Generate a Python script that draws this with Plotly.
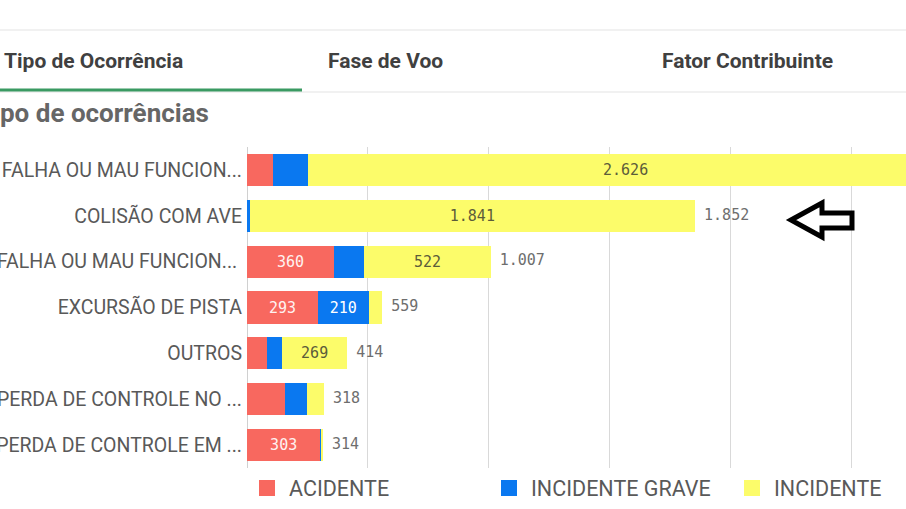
import plotly.graph_objects as go

# ---- data ----
categories = [
    "FALHA OU MAU FUNCION...",
    "COLISÃO COM AVE",
    "FALHA OU MAU FUNCION... ",
    "EXCURSÃO DE PISTA",
    "OUTROS",
    "PERDA DE CONTROLE NO ...",
    "PERDA DE CONTROLE EM ...",
]
acidente = [107, 3, 360, 293, 83, 157, 303]
incidente_grave = [145, 8, 125, 210, 62, 91, 6]
incidente = [2626, 1841, 522, 56, 269, 70, 5]
series_names = ["ACIDENTE", "INCIDENTE GRAVE", "INCIDENTE"]
colors = ["#f8685f", "#0a78f0", "#fcfc6a"]
tabs = ["Tipo de Ocorrência", "Fase de Voo", "Fator Contribuinte"]
title_text = "Tipo de ocorrências"

totals = [a + b + c for a, b, c in zip(acidente, incidente_grave, incidente)]

W, H = 906, 509
ML, MR, MT, MB = 247, 0, 147, 41
PW, PH = W - ML - MR, H - MT - MB


def X(px):
    return (px - ML) / PW


def Y(py):
    return (H - MB - py) / PH


def fmt(v):
    return f"{v:,}".replace(",", ".")


def labels(vals):
    return [fmt(v) if v >= 200 else "" for v in vals]


fig = go.Figure()
text_colors = ["#fff2f0", "#ffffff", "#5c5c3a"]
legend_ids = ["legend", "legend", "legend2"]
for name, vals, col, tc in zip(series_names, [acidente, incidente_grave, incidente],
                               colors, text_colors):
    fig.add_trace(go.Bar(
        y=categories, x=vals, name=name, orientation="h",
        marker=dict(color=col, line=dict(width=0)),
        text=labels(vals), textposition="inside", insidetextanchor="middle",
        textfont=dict(family="DejaVu Sans Mono", size=15, color=tc),
        constraintext="none", hoverinfo="skip", showlegend=False,
    ))

# legend entries (square swatches)
for name, col, lg in zip(series_names, colors, legend_ids):
    fig.add_trace(go.Scatter(
        x=[None], y=[None], mode="markers", name=name, legend=lg,
        marker=dict(symbol="square", size=16, color=col), hoverinfo="skip",
    ))

fig.add_trace(go.Scatter(
    y=categories, x=totals, mode="text", text=["\u00a0" + fmt(t) for t in totals],
    textposition="middle right",
    textfont=dict(family="DejaVu Sans Mono", size=15, color="#6e6e6e"),
    showlegend=False, hoverinfo="skip", cliponaxis=True,
))

legend_font = dict(family="Roboto", size=21.5, color="#595959")
fig.update_layout(
    width=W, height=H,
    margin=dict(l=ML, r=MR, t=MT, b=MB),
    paper_bgcolor="white", plot_bgcolor="white",
    barmode="stack", bargap=0.3,
    separators=",.",
    font=dict(family="Roboto", color="#595959"),
    xaxis=dict(range=[0, 2724], dtick=500, showgrid=True, gridcolor="#d9d9d9",
               gridwidth=1, zeroline=True, zerolinecolor="#d0d0d0", zerolinewidth=1,
               showticklabels=False, fixedrange=True),
    yaxis=dict(autorange="reversed", showgrid=False, zeroline=False,
               tickfont=dict(family="Roboto", size=19.5, color="#595959"),
               ticks="", ticklabelstandoff=4, automargin=False, fixedrange=True),
    legend=dict(orientation="h", x=X(245), xanchor="left", y=Y(488), yanchor="middle",
                font=legend_font, entrywidth=193, entrywidthmode="pixels",
                itemwidth=34, traceorder="normal"),
    legend2=dict(orientation="h", x=X(730), xanchor="left", y=Y(488), yanchor="middle",
                 font=legend_font, itemwidth=34),
    showlegend=True,
)

# tabs header lines
fig.add_shape(type="line", xref="paper", yref="paper", x0=X(0), x1=X(906), y0=Y(30), y1=Y(30),
              line=dict(color="#e3e3e3", width=1))
fig.add_shape(type="line", xref="paper", yref="paper", x0=X(0), x1=X(906), y0=Y(92), y1=Y(92),
              line=dict(color="#e3e3e3", width=1))
fig.add_shape(type="line", xref="paper", yref="paper", x0=X(0), x1=X(302), y0=Y(90), y1=Y(90),
              line=dict(color="#3a9a62", width=3))

tab_centers = [93, 385, 747]
for t, px in zip(tabs, tab_centers):
    fig.add_annotation(xref="paper", yref="paper", x=X(px), y=Y(61), xanchor="center", yanchor="middle",
                       text=f"<b>{t}</b>", showarrow=False,
                       font=dict(family="Roboto", size=21, color="#404040"))

fig.add_annotation(xref="paper", yref="paper", x=X(211), y=Y(113), xanchor="right", yanchor="middle",
                   text=f"<b>{title_text}</b>", showarrow=False,
                   font=dict(family="Roboto", size=26, color="#666666"))

# arrow outline
pts = [(791, 220), (822, 203), (822, 213), (852, 213), (852, 228), (822, 228), (822, 237)]
path = "M " + " L ".join(f"{X(a):.5f},{Y(b):.5f}" for a, b in pts) + " Z"
fig.add_shape(type="path", xref="paper", yref="paper", path=path,
              line=dict(color="black", width=5), fillcolor="white", layer="above")

fig.write_html("out.html", config={"displayModeBar": False},
               post_script="document.body.style.margin='0';document.body.style.overflow='hidden';")
